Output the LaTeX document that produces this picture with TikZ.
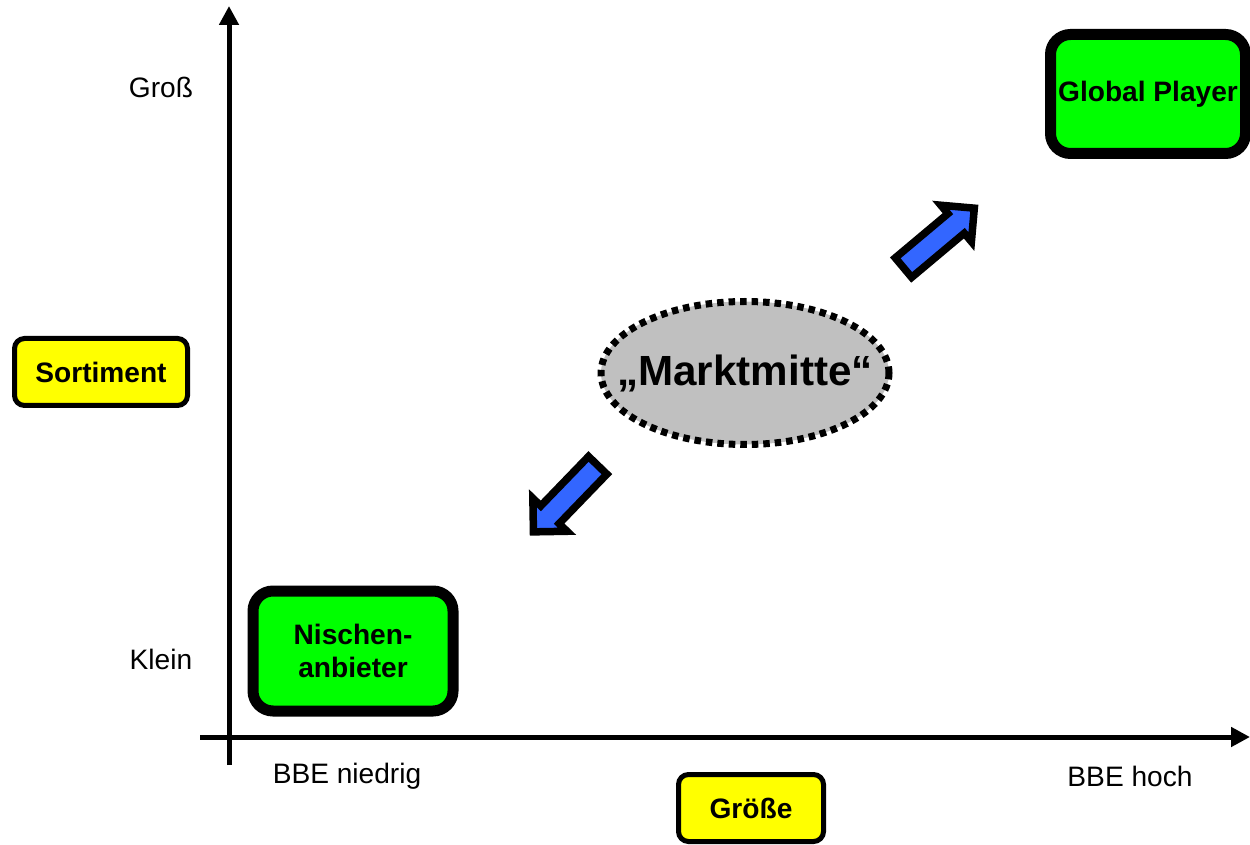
\documentclass[tikz,border=0pt]{standalone}
\usepackage{fontspec}
\setmainfont{Liberation Sans}
\usetikzlibrary{positioning, arrows.meta, shapes.geometric, shapes.arrows}

\definecolor{boxgreen}{RGB}{0,255,0}
\definecolor{boxyellow}{RGB}{255,255,0}
\definecolor{midgrey}{RGB}{192,192,192}
\definecolor{arrowblue}{RGB}{51,102,255}

\begin{document}
\begin{tikzpicture}[
    axisline/.style={line width=0.1cm, -{Triangle[length=0.38cm,width=0.38cm]}},
    playerbox/.style={draw=black, fill=boxgreen, line width=0.22cm, rounded corners=0.4cm,
      minimum width=3.9cm, minimum height=2.38cm, align=center,
      font=\fontsize{16}{19}\selectfont\bfseries},
    axisbox/.style={draw=black, fill=boxyellow, line width=0.1cm, rounded corners=0.2cm,
      minimum height=1.34cm, font=\fontsize{16}{19}\selectfont\bfseries},
    scalelabel/.style={font=\fontsize{16}{19}\selectfont},
    movearrow/.style={single arrow, draw=black, fill=arrowblue, line width=0.15cm,
      inner sep=0.18cm, single arrow head extend=0.22cm, single arrow head indent=0cm,
      minimum height=1.85cm}
  ]
    \useasboundingbox (0,0) rectangle (25,16.88);

    % Draw axes
    \coordinate (xstart) at (4.0,2.14);
    \coordinate (xend) at (25.0,2.14);
    \coordinate (ystart) at (4.58,1.58);
    \coordinate (yend) at (4.58,16.76);
    \draw[axisline] (xstart) -- (xend);
    \draw[axisline] (ystart) -- (yend);

    % Scale labels
    \node[scalelabel] (gross) at (3.22,15.14) {Groß};
    \node[scalelabel] (klein) at (3.22,3.70) {Klein};
    \node[scalelabel] (niedrig) at (6.94,1.36) {BBE niedrig};
    \node[scalelabel] (hoch) at (22.60,1.36) {BBE hoch};

    % Axis titles
    \node[axisbox, minimum width=3.46cm] (sortiment) at (2.02,9.44) {Sortiment};
    \node[axisbox, minimum width=2.9cm] (groesse) at (15.02,0.72) {Größe};

    % Players
    \node[playerbox] (global) at (22.96,15.0) {Global Player};
    \node[playerbox, minimum width=4.0cm, minimum height=2.4cm] (nische) at (7.06,3.86) {Nischen-\\anbieter};

    % Market middle
    \node[ellipse, draw=black, fill=midgrey, line width=0.14cm,
      dash pattern=on 0.13cm off 0.1cm, inner xsep=-0.6cm, inner ysep=0cm,
      minimum width=5.76cm, minimum height=2.86cm,
      font=\fontsize{24}{28}\selectfont\bfseries] (mitte) at (14.9,9.42) {„Marktmitte“};

    % Arrows
    \node[movearrow, rotate=40] (up) at (18.68,12.04) {};
    \node[movearrow, rotate=226] (down) at (11.4,7.0) {};

  \end{tikzpicture}
\end{document}
